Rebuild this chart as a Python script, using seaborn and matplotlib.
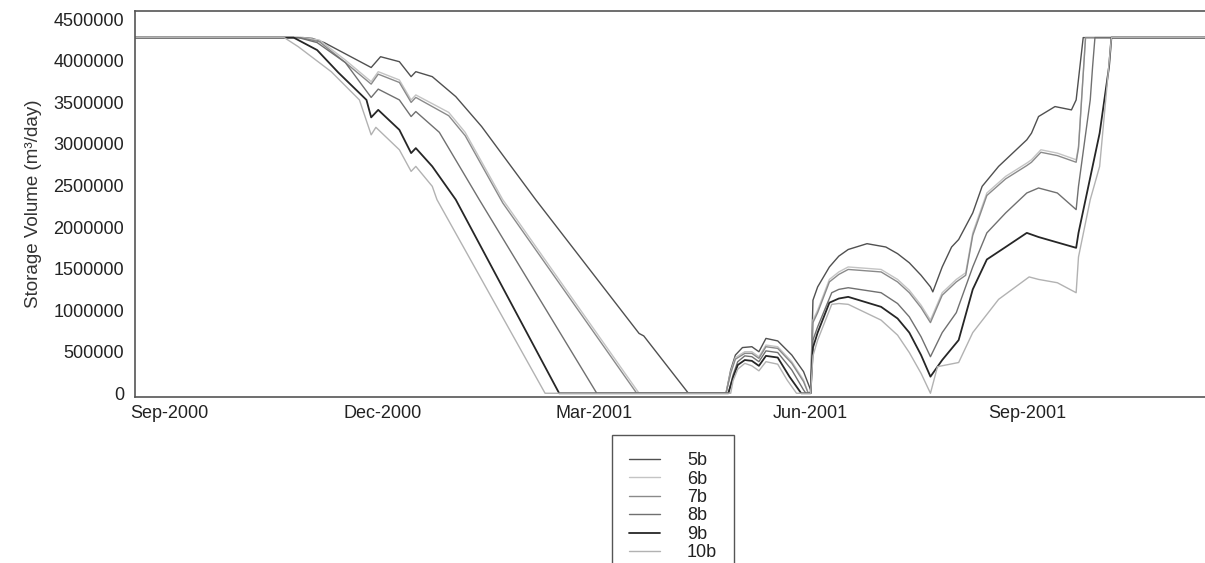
import matplotlib
matplotlib.use("Agg")
import matplotlib.pyplot as plt
import matplotlib.dates as mdates
from matplotlib.lines import Line2D
import numpy as np
import pandas as pd
import seaborn as sns

# ---- storage volume per scenario (date, m3) ----
d5b = ["2000-08-17", "2000-10-28", "2000-11-01", "2000-11-06", "2000-11-12", "2000-11-26",
       "2000-11-30", "2000-12-08", "2000-12-13", "2000-12-15", "2000-12-22", "2001-01-01",
       "2001-01-12", "2001-02-04", "2001-03-20", "2001-03-22", "2001-04-10", "2001-04-26",
       "2001-04-28", "2001-04-30", "2001-05-03", "2001-05-07", "2001-05-10", "2001-05-13",
       "2001-05-18", "2001-05-24", "2001-05-29", "2001-06-01", "2001-06-02", "2001-06-04",
       "2001-06-09", "2001-06-13", "2001-06-17", "2001-06-25", "2001-07-03", "2001-07-08",
       "2001-07-13", "2001-07-18", "2001-07-22", "2001-07-23", "2001-07-27", "2001-07-31",
       "2001-08-03", "2001-08-09", "2001-08-13", "2001-08-20", "2001-09-01", "2001-09-03",
       "2001-09-06", "2001-09-13", "2001-09-20", "2001-09-22", "2001-09-25", "2001-11-16"]
v5b = [4280000, 4280000, 4270000, 4220000, 4130000, 3920000,
       4050000, 3990000, 3810000, 3870000, 3810000, 3570000,
       3210000, 2330000, 720000, 690000, 0, 0,
       280000, 460000, 550000, 560000, 500000, 660000,
       630000, 460000, 260000, 40000, 1120000, 1280000,
       1520000, 1650000, 1730000, 1800000, 1760000, 1680000,
       1570000, 1420000, 1280000, 1220000, 1520000, 1760000,
       1850000, 2170000, 2490000, 2730000, 3050000, 3130000,
       3330000, 3450000, 3410000, 3530000, 4280000, 4280000]

d6b = ["2000-08-17", "2000-10-28", "2000-11-04", "2000-11-15", "2000-11-26", "2000-11-29",
       "2000-12-08", "2000-12-13", "2000-12-15", "2000-12-29", "2001-01-05", "2001-01-21",
       "2001-03-20", "2001-04-26", "2001-04-28", "2001-04-30", "2001-05-04", "2001-05-07",
       "2001-05-10", "2001-05-13", "2001-05-18", "2001-05-24", "2001-05-29", "2001-05-31",
       "2001-06-01", "2001-06-02", "2001-06-04", "2001-06-09", "2001-06-13", "2001-06-17",
       "2001-07-01", "2001-07-08", "2001-07-13", "2001-07-18", "2001-07-22", "2001-07-27",
       "2001-08-02", "2001-08-06", "2001-08-09", "2001-08-15", "2001-08-23", "2001-09-01",
       "2001-09-03", "2001-09-07", "2001-09-14", "2001-09-22", "2001-09-23", "2001-09-26",
       "2001-11-16"]
v6b = [4280000, 4280000, 4250000, 4010000, 3750000, 3870000,
       3770000, 3530000, 3590000, 3380000, 3140000, 2330000,
       0, 0, 260000, 430000, 500000, 500000,
       440000, 580000, 560000, 380000, 160000, 0,
       0, 880000, 1000000, 1370000, 1460000, 1520000,
       1490000, 1370000, 1240000, 1060000, 880000, 1210000,
       1370000, 1450000, 1930000, 2410000, 2610000, 2770000,
       2810000, 2930000, 2890000, 2810000, 2970000, 4280000,
       4280000]

d7b = ["2000-08-17", "2000-10-27", "2000-11-04", "2000-11-15", "2000-11-26", "2000-11-29",
       "2000-12-08", "2000-12-13", "2000-12-15", "2000-12-29", "2001-01-05", "2001-01-21",
       "2001-03-19", "2001-04-26", "2001-04-28", "2001-04-30", "2001-05-04", "2001-05-07",
       "2001-05-10", "2001-05-13", "2001-05-18", "2001-05-24", "2001-05-29", "2001-05-31",
       "2001-06-01", "2001-06-02", "2001-06-04", "2001-06-09", "2001-06-13", "2001-06-17",
       "2001-07-01", "2001-07-08", "2001-07-13", "2001-07-18", "2001-07-22", "2001-07-27",
       "2001-08-02", "2001-08-06", "2001-08-09", "2001-08-15", "2001-08-23", "2001-09-01",
       "2001-09-03", "2001-09-07", "2001-09-14", "2001-09-22", "2001-09-23", "2001-09-26",
       "2001-11-16"]
v7b = [4280000, 4280000, 4230000, 3980000, 3720000, 3840000,
       3740000, 3500000, 3560000, 3340000, 3100000, 2290000,
       0, 0, 240000, 410000, 480000, 480000,
       420000, 560000, 540000, 360000, 140000, 0,
       0, 850000, 970000, 1340000, 1430000, 1490000,
       1460000, 1340000, 1210000, 1030000, 850000, 1180000,
       1340000, 1420000, 1900000, 2380000, 2580000, 2740000,
       2780000, 2900000, 2860000, 2780000, 2950000, 4280000,
       4280000]

d8b = ["2000-08-17", "2000-10-26", "2000-11-03", "2000-11-15", "2000-11-26", "2000-11-29",
       "2000-12-08", "2000-12-13", "2000-12-15", "2000-12-25", "2001-01-11", "2001-03-02",
       "2001-04-27", "2001-04-29", "2001-05-01", "2001-05-04", "2001-05-07", "2001-05-10",
       "2001-05-13", "2001-05-18", "2001-05-24", "2001-05-29", "2001-05-30", "2001-06-01",
       "2001-06-02", "2001-06-04", "2001-06-10", "2001-06-13", "2001-06-17", "2001-07-01",
       "2001-07-08", "2001-07-13", "2001-07-18", "2001-07-22", "2001-07-27", "2001-08-02",
       "2001-08-09", "2001-08-15", "2001-08-23", "2001-09-01", "2001-09-06", "2001-09-14",
       "2001-09-22", "2001-09-23", "2001-09-28", "2001-09-29", "2001-09-30", "2001-11-16"]
v8b = [4280000, 4280000, 4220000, 3980000, 3560000, 3660000,
       3530000, 3330000, 3390000, 3140000, 2330000, 0,
       0, 220000, 380000, 450000, 440000, 380000,
       510000, 490000, 280000, 40000, 0, 0,
       640000, 800000, 1210000, 1250000, 1270000, 1210000,
       1080000, 920000, 680000, 440000, 730000, 970000,
       1520000, 1930000, 2170000, 2410000, 2470000, 2410000,
       2210000, 2490000, 3530000, 3930000, 4280000, 4280000]

d9b = ["2000-08-17", "2000-10-24", "2000-11-03", "2000-11-12", "2000-11-24", "2000-11-26",
       "2000-11-29", "2000-12-08", "2000-12-13", "2000-12-15", "2000-12-22", "2001-01-01",
       "2001-02-14", "2001-04-27", "2001-04-29", "2001-05-01", "2001-05-04", "2001-05-07",
       "2001-05-10", "2001-05-13", "2001-05-18", "2001-05-23", "2001-05-28", "2001-06-01",
       "2001-06-02", "2001-06-04", "2001-06-09", "2001-06-13", "2001-06-17", "2001-07-01",
       "2001-07-08", "2001-07-13", "2001-07-18", "2001-07-22", "2001-07-27", "2001-08-03",
       "2001-08-09", "2001-08-15", "2001-08-23", "2001-09-01", "2001-09-06", "2001-09-22",
       "2001-09-23", "2001-09-26", "2001-10-02", "2001-10-06", "2001-10-07", "2001-11-16"]
v9b = [4280000, 4280000, 4130000, 3860000, 3530000, 3320000,
       3410000, 3170000, 2890000, 2950000, 2730000, 2330000,
       0, 0, 190000, 340000, 400000, 390000,
       330000, 450000, 430000, 200000, 0, 0,
       550000, 730000, 1090000, 1140000, 1160000, 1040000,
       900000, 730000, 460000, 200000, 400000, 640000,
       1250000, 1610000, 1760000, 1930000, 1880000, 1750000,
       1930000, 2330000, 3130000, 3930000, 4280000, 4280000]

d10b = ["2000-08-17", "2000-10-20", "2000-10-26", "2000-11-09", "2000-11-21", "2000-11-26",
        "2000-11-28", "2000-12-08", "2000-12-13", "2000-12-15", "2000-12-22", "2000-12-24",
        "2001-02-08", "2001-04-28", "2001-04-29", "2001-05-01", "2001-05-04", "2001-05-07",
        "2001-05-10", "2001-05-13", "2001-05-18", "2001-05-22", "2001-05-26", "2001-06-01",
        "2001-06-02", "2001-06-04", "2001-06-10", "2001-06-13", "2001-06-17", "2001-07-01",
        "2001-07-08", "2001-07-13", "2001-07-18", "2001-07-22", "2001-07-25", "2001-08-03",
        "2001-08-09", "2001-08-20", "2001-09-02", "2001-09-06", "2001-09-14", "2001-09-22",
        "2001-09-23", "2001-09-28", "2001-10-02", "2001-10-07", "2001-11-16"]
v10b = [4280000, 4280000, 4170000, 3870000, 3530000, 3110000,
        3200000, 2930000, 2670000, 2730000, 2490000, 2330000,
        0, 0, 150000, 290000, 360000, 330000,
        270000, 380000, 350000, 160000, 0, 0,
        450000, 640000, 1070000, 1080000, 1070000, 880000,
        700000, 490000, 240000, 0, 320000, 370000,
        730000, 1130000, 1400000, 1370000, 1330000, 1210000,
        1640000, 2330000, 2730000, 4280000, 4280000]

scenarios = ["5b", "6b", "7b", "8b", "9b", "10b"]
series_dates = [d5b, d6b, d7b, d8b, d9b, d10b]
series_values = [v5b, v6b, v7b, v8b, v9b, v10b]
line_colors = ["#505050", "#c4c4c4", "#8a8a8a", "#707070", "#262626", "#b2b2b2"]
line_widths = [1.0, 1.0, 1.0, 1.0, 1.3, 1.0]

y_ticks = [0, 500000, 1000000, 1500000, 2000000, 2500000, 3000000, 3500000, 4000000, 4500000]
x_ticks = ["2000-09-01", "2000-12-01", "2001-03-01", "2001-06-01", "2001-09-01"]

frames = []
for name, dd, vv in zip(scenarios, series_dates, series_values):
    frames.append(pd.DataFrame({"date": pd.to_datetime(dd), "volume": vv, "scenario": name}))
df = pd.concat(frames, ignore_index=True)

sns.set_theme(style="white")
plt.rcParams["font.family"] = ["Liberation Sans", "DejaVu Sans"]

fig = plt.figure(figsize=(12.05, 5.63), dpi=100)
ax = fig.add_axes([135 / 1205, 1 - 397 / 563, 1 - 135 / 1205, (397 - 11) / 563])

palette = dict(zip(scenarios, line_colors))
for name, lw in zip(scenarios, line_widths):
    sub = df[df["scenario"] == name]
    sns.lineplot(data=sub, x="date", y="volume", color=palette[name], linewidth=lw,
                 estimator=None, sort=False, legend=False, ax=ax)

ax.set_xlim(pd.Timestamp("2000-08-17 12:00"), pd.Timestamp("2001-11-15 20:00"))
ax.set_ylim(-45000, 4600000)
ax.set_yticks(y_ticks)
ax.set_yticklabels([str(t) for t in y_ticks])
ax.set_xticks(pd.to_datetime(x_ticks))
ax.xaxis.set_major_formatter(mdates.DateFormatter("%b-%Y"))
ax.tick_params(axis="both", length=0, labelsize=13, colors="#222222")
ax.tick_params(axis="x", pad=6)
ax.tick_params(axis="y", pad=8)
ax.set_xlabel("")
ax.set_ylabel("Storage Volume (m³/day)", fontsize=13.5, color="#333333", labelpad=8)
for side in ["left", "top", "bottom"]:
    ax.spines[side].set_color("#555555")
    ax.spines[side].set_linewidth(1.2)
ax.spines["right"].set_visible(False)
ax.grid(False)

handles = [Line2D([0], [0], color=c, linewidth=lw) for c, lw in zip(line_colors, line_widths)]
leg = fig.legend(handles, scenarios, loc="upper left",
                 bbox_to_anchor=(612 / 1205, 1 - 435 / 563),
                 fontsize=13, frameon=True, fancybox=False, shadow=False,
                 handlelength=1.7, handletextpad=1.5, labelspacing=0.08,
                 borderpad=0.95, borderaxespad=0.0)
leg.get_frame().set_edgecolor("#555555")
leg.get_frame().set_linewidth(1.0)
leg.get_frame().set_alpha(1.0)
for t in leg.get_texts():
    t.set_color("#222222")

fig.savefig("out.png", dpi=100)
